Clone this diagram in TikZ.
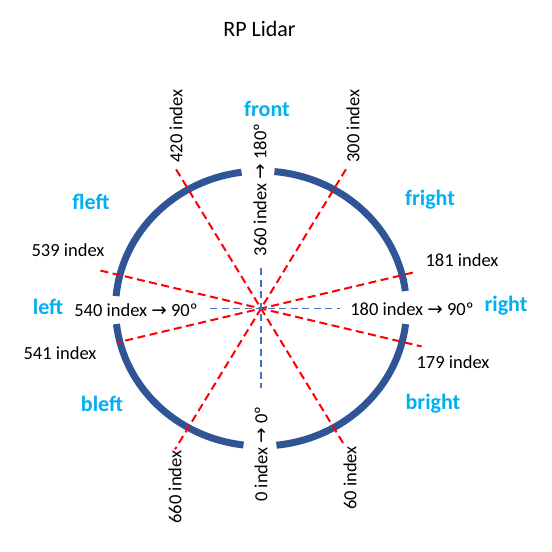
\documentclass[tikz,border=0pt]{standalone}
\usepackage{fontspec}
\usetikzlibrary{calc}
\setmainfont{Carlito}
\newfontfamily\arrowfont{DejaVu Sans}
\definecolor{ringblue}{HTML}{2F5597}
\definecolor{axisblue}{HTML}{4472C4}
\definecolor{dircyan}{HTML}{00B0F0}
\newcommand{\idxto}{{\arrowfont\char"2192}}
\tikzset{
  idx/.style={inner sep=0pt, font=\fontsize{18.5}{20}\selectfont},
  side/.style={inner sep=0pt, text=dircyan, font=\bfseries\fontsize{22}{24}\selectfont},
  beam/.style={red, line width=2pt, dash pattern=on 8pt off 4.5pt},
  axisline/.style={axisblue, line width=1.5pt, dash pattern=on 7pt off 4.5pt},
  ring/.style={ringblue, line width=7pt}
}
\begin{document}
\begin{tikzpicture}[x=1pt,y=-1pt]
  \useasboundingbox[fill=white] (0,0) rectangle (552,552);
  \coordinate (C) at (261,308.5);
  % ring, open where the axis labels cross it
  \draw[ring] ($(C)+(6.5:145.5 and 137.5)$) arc[start angle=6.5, end angle=83.9, x radius=145.5, y radius=137.5];
  \draw[ring] ($(C)+(96.9:145.5 and 137.5)$) arc[start angle=96.9, end angle=173.5, x radius=145.5, y radius=137.5];
  \draw[ring] ($(C)+(185.2:145.5 and 137.5)$) arc[start angle=185.2, end angle=262.3, x radius=145.5, y radius=137.5];
  \draw[ring] ($(C)+(275.3:145.5 and 137.5)$) arc[start angle=275.3, end angle=352.7, x radius=145.5, y radius=137.5];
  % beam ends
  \coordinate (e420) at ($(C)+(238.6:163)$);
  \coordinate (e60)  at ($(C)+(58.6:159)$);
  \coordinate (e300) at ($(C)+(301.4:163)$);
  \coordinate (e660) at ($(C)+(121.4:165)$);
  \coordinate (e539) at ($(C)+(193.3:165)$);
  \coordinate (e179) at ($(C)+(13.3:165)$);
  \coordinate (e181) at ($(C)+(346.7:156)$);
  \coordinate (e541) at ($(C)+(166.7:148)$);
  \draw[beam] (e420) -- (e60);
  \draw[beam] (e300) -- (e660);
  \draw[beam] (e539) -- (e179);
  \draw[beam] (e181) -- (e541);
  % axes
  \coordinate (aw) at (210,308.5);
  \coordinate (ae) at (340,308.5);
  \coordinate (an) at (261,268);
  \coordinate (as) at (261,388);
  \draw[axisline] (aw) -- (ae);
  \draw[axisline] (an) -- (as);
  % title
  \node[anchor=base, font=\fontsize{22}{24}\selectfont] (title) at (259.5,36.7) {RP Lidar};
  % index labels
  \node[idx] (t539) at (68,250) {539 index};
  \node[idx] (t541) at (60,353) {541 index};
  \node[idx] (t181) at (462,260) {181 index};
  \node[idx] (t179) at (453,362) {179 index};
  \node[idx] (t540) at (136,310) {540 index \idxto\ 90º};
  \node[idx] (t180) at (412,309) {180 index \idxto\ 90º};
  \node[idx, rotate=90] (t420) at (176,126) {420 index};
  \node[idx, rotate=90] (t300) at (353,126) {300 index};
  \node[idx, rotate=90] (t360) at (260,190) {360 index \idxto\ 180º};
  \node[idx, rotate=90] (t0)   at (261,454) {0 index \idxto\ 0º};
  \node[idx, rotate=90] (t660) at (175,487) {660 index};
  \node[idx, rotate=90] (t60)  at (350,478) {60 index};
  % directions
  \node[side] (front)  at (267,109) {front};
  \node[side] (fleft)  at (91,202) {fleft};
  \node[side] (fright) at (430,200) {fright};
  \node[side] (left)   at (48,307) {left};
  \node[side] (right)  at (506,306) {right};
  \node[side] (bleft)  at (102,404) {bleft};
  \node[side] (bright) at (433,404) {bright};
\end{tikzpicture}
\end{document}
